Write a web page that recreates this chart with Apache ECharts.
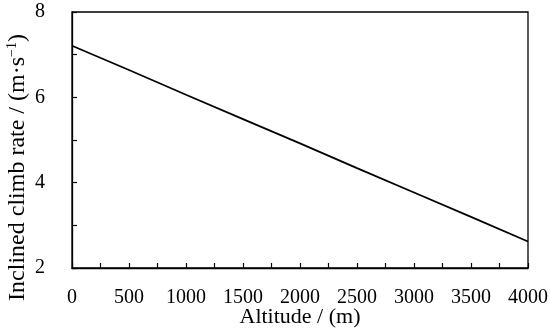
<!DOCTYPE html>
<html><head><meta charset="utf-8">
<script src="https://cdn.jsdelivr.net/npm/echarts@6/dist/echarts.min.js"></script>
<style>html,body{margin:0;padding:0;background:#fff}#c{width:550px;height:335px}</style>
</head><body><div id="c"></div>
<script>
const altitude = [0, 500, 1000, 1500, 2000, 2500, 3000, 3500, 4000];
const climbRate = [7.21, 6.64, 6.06, 5.49, 4.92, 4.34, 3.77, 3.20, 2.62];
const xTicks = [0, 500, 1000, 1500, 2000, 2500, 3000, 3500, 4000];
const yTicks = [2, 4, 6, 8];
const FONT = '"Liberation Serif", "DejaVu Serif", serif';
const chart = echarts.init(document.getElementById('c'));
chart.setOption({
  animation: false,
  grid: {left: 72, right: 22, top: 12, bottom: 67, containLabel: false, outerBoundsMode: 'none',
    show: true, borderColor: '#000', borderWidth: 1.3, backgroundColor: 'transparent'},
  xAxis: {
    type: 'value', min: xTicks[0], max: xTicks[xTicks.length-1], interval: 500,
    name: 'Altitude / (m)', nameLocation: 'middle', nameGap: 38, nameMoveOverlap: false,
    nameTextStyle: {fontFamily: FONT, fontSize: 22, color: '#000'},
    axisLine: {show: true, lineStyle: {color: '#000', width: 1.3}},
    axisTick: {show: true, inside: true, length: 5, lineStyle: {color: '#000', width: 1.2}},
    minorTick: {show: true, splitNumber: 2, length: 5, lineStyle: {color: '#000', width: 1.2}},
    splitLine: {show: false},
    axisLabel: {fontFamily: FONT, fontSize: 20, color: '#000', margin: 20, formatter: v => String(v)}
  },
  yAxis: {
    type: 'value', min: yTicks[0], max: yTicks[yTicks.length-1], interval: 2,
    name: 'Inclined climb rate / (m·s{sup|−1})', nameLocation: 'middle', nameGap: 42, nameMoveOverlap: false,
    nameTextStyle: {fontFamily: FONT, fontSize: 24, color: '#000', padding: [0, 55, 0, 0],
      rich: {sup: {fontFamily: FONT, fontSize: 14, color: '#000', padding: [0, 0, 11, 0]}}},
    axisLine: {show: true, lineStyle: {color: '#000', width: 1.3}},
    axisTick: {show: true, inside: true, length: 5, lineStyle: {color: '#000', width: 1.2}},
    minorTick: {show: true, splitNumber: 2, length: 5, lineStyle: {color: '#000', width: 1.2}},
    splitLine: {show: false},
    axisLabel: {fontFamily: FONT, fontSize: 20, color: '#000', margin: 27}
  },
  series: [{
    type: 'line', data: altitude.map((a, i) => [a, climbRate[i]]),
    showSymbol: false, lineStyle: {color: '#000', width: 1.8}
  }]
});
</script></body></html>
